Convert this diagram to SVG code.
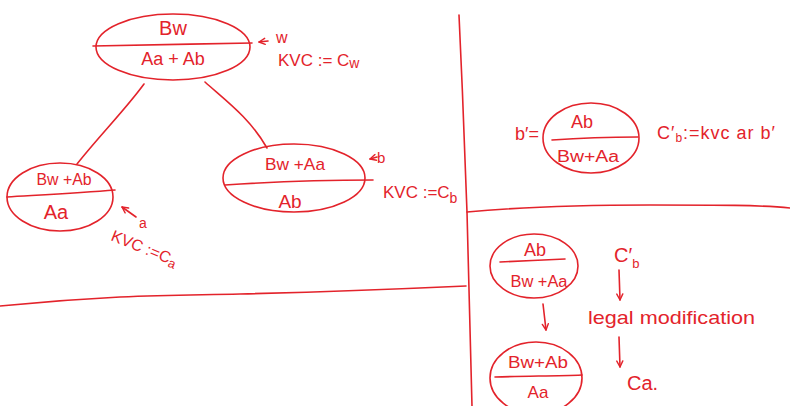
<svg xmlns="http://www.w3.org/2000/svg" width="790" height="406" viewBox="0 0 790 406">
  <style>
    .ink { fill: none; stroke: #e3232b; stroke-width: 1.6; stroke-linecap: round; stroke-linejoin: round; }
    .t { fill: #e3232b; font-family: "Liberation Sans", "DejaVu Sans", sans-serif; text-anchor: middle; }
    .l { text-anchor: start; }
  </style>
  <defs>
    <marker id="vhead" viewBox="0 0 8 8" refX="7" refY="4" markerWidth="8" markerHeight="8" markerUnits="userSpaceOnUse" orient="auto">
      <path d="M1,1 L7,4 L1,7" fill="none" stroke="#e3232b" stroke-width="1.4" stroke-linecap="round" stroke-linejoin="round"/>
    </marker>
  </defs>
  <rect width="790" height="406" fill="#ffffff"/>

  <!-- board dividers -->
  <g id="frame" class="ink">
    <path d="M459,15 C462,80 465,150 467,212 C469,290 471,350 472,406"/>
    <path d="M467,212 C520,207 580,205 650,205 C720,205 760,205 790,208"/>
    <path d="M0,306 C40,302 80,299 120,297 C170,295 200,295 240,294 C320,292 400,289 466,286"/>
  </g>

  <!-- tree: root w -->
  <g id="node-w">
    <ellipse class="ink" cx="173" cy="47" rx="77" ry="33"/>
    <path class="ink" d="M93,46 C140,45 200,44 252,43"/>
    <text class="t" x="173" y="35" font-size="20">Bw</text>
    <text class="t" x="173" y="65" font-size="18">Aa + Ab</text>
  </g>

  <!-- tree: left child a -->
  <g id="node-a">
    <ellipse class="ink" cx="60" cy="197" rx="53" ry="34"/>
    <path class="ink" d="M7,197 C40,195 80,193 115,190"/>
    <text class="t" x="64" y="185" font-size="16" textLength="55" lengthAdjust="spacingAndGlyphs">Bw +Ab</text>
    <text class="t" x="56" y="219" font-size="20">Aa</text>
  </g>

  <!-- tree: right child b -->
  <g id="node-b">
    <ellipse class="ink" cx="294" cy="178" rx="71" ry="34"/>
    <path class="ink" d="M225,185 C270,182 320,180 373,180"/>
    <text class="t" x="295" y="170" font-size="17" textLength="60" lengthAdjust="spacingAndGlyphs">Bw +Aa</text>
    <text class="t" x="290" y="208" font-size="19">Ab</text>
  </g>

  <!-- b' = node with swapped halves -->
  <g id="node-bprime">
    <ellipse class="ink" cx="591" cy="138" rx="48" ry="35"/>
    <path class="ink" d="M552,140 C580,138 610,137 638,137"/>
    <text class="t" x="582" y="128" font-size="18">Ab</text>
    <text class="t" x="588" y="162" font-size="16" textLength="62" lengthAdjust="spacingAndGlyphs">Bw+Aa</text>
  </g>

  <!-- legal modification: before -->
  <g id="node-before">
    <ellipse class="ink" cx="534" cy="266" rx="44" ry="32"/>
    <path class="ink" d="M500,262 C520,261 545,260 565,259"/>
    <text class="t" x="535" y="256" font-size="18">Ab</text>
    <text class="t" x="539" y="287" font-size="16" textLength="57" lengthAdjust="spacingAndGlyphs">Bw +Aa</text>
  </g>

  <!-- legal modification: after -->
  <g id="node-after">
    <ellipse class="ink" cx="536" cy="378" rx="46" ry="36"/>
    <path class="ink" d="M495,377 C525,376 555,376 582,375"/>
    <text class="t" x="538" y="368" font-size="16" textLength="60" lengthAdjust="spacingAndGlyphs">Bw+Ab</text>
    <text class="t" x="538" y="398" font-size="17">Aa</text>
  </g>

  <!-- connectors -->
  <g id="connectors" class="ink">
    <path d="M144,84 C125,110 100,135 77,164"/>
    <path d="M205,82 C225,100 250,118 267,148"/>
    <path d="M268,41 L259,42" marker-end="url(#vhead)"/>
    <path d="M136,217 L122,207" marker-end="url(#vhead)"/>
    <path d="M377,157 L370,159" marker-end="url(#vhead)"/>
    <path d="M543,304 L546,330" marker-end="url(#vhead)"/>
    <path d="M619,270 L620,300" marker-end="url(#vhead)"/>
    <path d="M619,337 L620,367" marker-end="url(#vhead)"/>
  </g>

  <!-- annotations -->
  <g id="labels">
    <text class="t l" x="276" y="43" font-size="16">w</text>
    <text class="t l" x="278" y="66" font-size="17">KVC := C<tspan font-size="14" dy="2">w</tspan></text>

    <text class="t l" x="139" y="228" font-size="14">a</text>
    <text class="t l" x="110" y="240" font-size="16" transform="rotate(22 110 240)">KVC :=C<tspan font-size="13" dy="3">a</tspan></text>

    <text class="t l" x="377" y="163" font-size="15">b</text>
    <text class="t l" x="383" y="198" font-size="17">KVC :=C<tspan font-size="14" dy="5">b</tspan></text>

    <text class="t l" x="515" y="140" font-size="18">b′=</text>

    <text class="t l" x="657" y="139" font-size="18" letter-spacing="1">C′<tspan font-size="12" dy="3">b</tspan><tspan dy="-3">:=kvc ar b′</tspan></text>

    <text class="t l" x="614" y="262" font-size="20">C′<tspan font-size="13" dy="6">b</tspan></text>

    <text class="t l" x="588" y="324" font-size="19" textLength="167" lengthAdjust="spacingAndGlyphs">legal modification</text>
    <text class="t l" x="627" y="390" font-size="20">Ca.</text>
  </g>
</svg>
